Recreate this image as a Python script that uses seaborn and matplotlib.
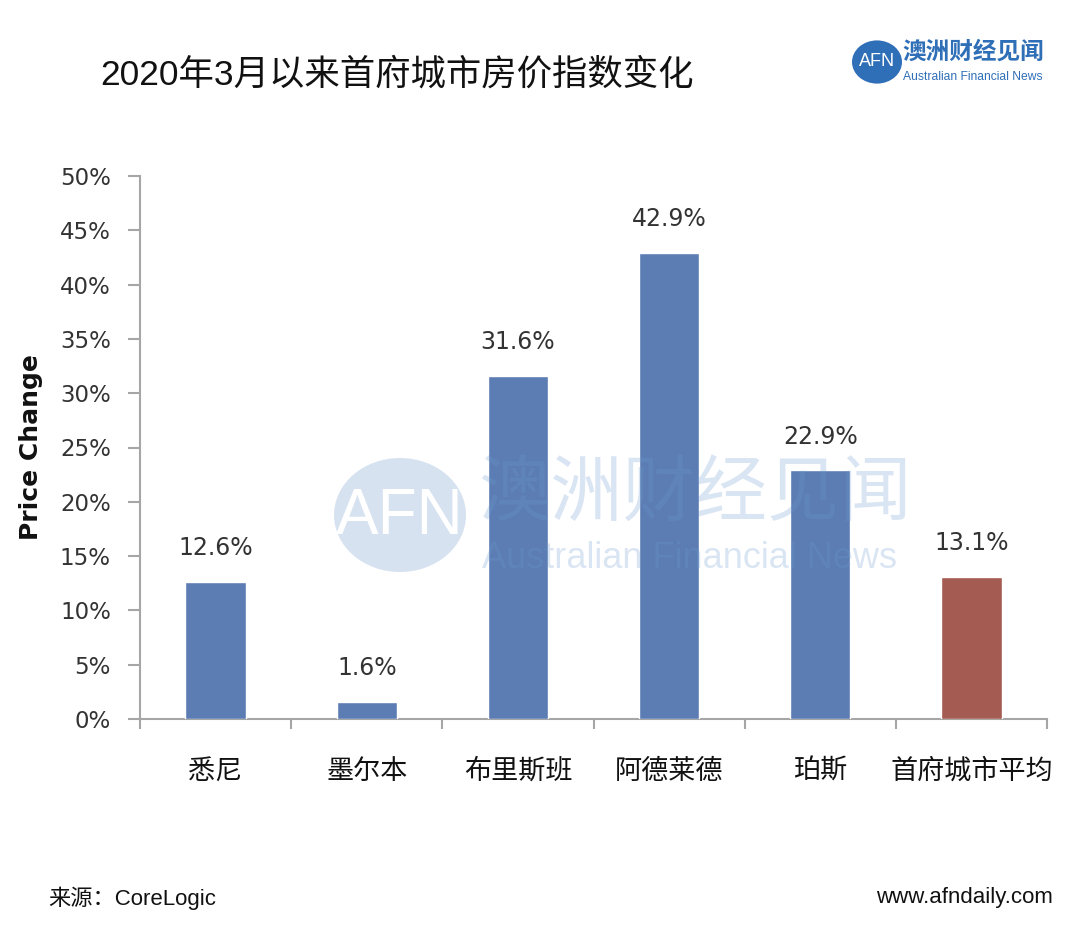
import matplotlib
matplotlib.use("Agg")
import matplotlib.pyplot as plt
import seaborn as sns
import pandas as pd
from matplotlib.patches import Circle
from matplotlib.ticker import FixedLocator, PercentFormatter

cities = ["悉尼", "墨尔本", "布里斯班", "阿德莱德", "珀斯", "首府城市平均"]
changes = [12.6, 1.6, 31.6, 42.9, 22.9, 13.1]
bar_colors = ["#5B7DB3", "#5B7DB3", "#5B7DB3", "#5B7DB3", "#5B7DB3", "#A35B52"]
y_ticks = [0, 5, 10, 15, 20, 25, 30, 35, 40, 45, 50]

sns.set_theme(style="white")
plt.rcParams['font.family'] = ['Noto Sans CJK SC', 'DejaVu Sans']
LAT = ['Liberation Sans', 'Noto Sans CJK SC']

df = pd.DataFrame({"city": cities, "change": changes})

fig = plt.figure(figsize=(10.8, 9.33), dpi=100)
ax = fig.add_axes([140/1080, 1-719/933, (1047-140)/1080, (719-176)/933])

sns.barplot(data=df, x="city", y="change", hue="city", palette=bar_colors,
            width=0.4, legend=False, ax=ax, saturation=1, zorder=3)

ax.set_ylim(0, 50)
ax.set_xlim(-0.5, len(cities)-0.5)
ax.yaxis.set_major_locator(FixedLocator(y_ticks))
ax.yaxis.set_major_formatter(PercentFormatter(decimals=0))
ax.tick_params(axis="y", which="major", direction="out", length=9, width=1.5,
               color="#A6A6A6", labelsize=16.5, labelcolor="#333333", left=True, pad=12)
for lab in ax.get_yticklabels():
    lab.set_family(['DejaVu Sans'])
ax.tick_params(axis="x", which="major", length=0, labelsize=19.5, labelcolor="#111111", pad=28)
ax.set_xticks([i - 0.5 for i in range(len(cities)+1)], minor=True)
ax.tick_params(axis="x", which="minor", direction="out", length=7, width=1.5,
               color="#A6A6A6", bottom=True)

for s in ["top", "right"]:
    ax.spines[s].set_visible(False)
for s in ["left", "bottom"]:
    ax.spines[s].set_color("#A6A6A6")
    ax.spines[s].set_linewidth(1.5)

ax.set_xlabel("")
ax.set_ylabel("Price Change", fontsize=18, fontweight="bold", color="#111111",
              family=["DejaVu Sans"], labelpad=12)

for i, v in enumerate(changes):
    ax.text(i, v + 2.0, f"{v:.1f}%", ha="center", va="bottom", fontsize=17,
            color="#333333", zorder=4, family=["DejaVu Sans"])

# watermark
fig.patches.append(Circle((400/1080, 1-515/933), 66/1080, transform=fig.transFigure,
                          facecolor="#D7E2F0", edgecolor="none", zorder=0))
fig.text(400/1080, 1-517/933, "AFN", ha="center", va="center", fontsize=46,
         color="white", zorder=5, family=LAT)
fig.text(478/1080, 1-494/933, "澳洲财经见闻", ha="left", va="center", fontsize=52,
         color="#6E9AD0", alpha=0.25, zorder=5)
fig.text(482/1080, 1-559/933, "Australian Financial News", ha="left", va="center",
         fontsize=26, color="#6E9AD0", alpha=0.25, zorder=5, family=LAT)

# title
fig.text(100/1080, 1-75/933, "2020年3月以来首府城市房价指数变化", ha="left", va="center",
         fontsize=25.5, color="#111111", family=LAT)

# logo
fig.patches.append(Circle((877/1080, 1-62/933), 25/1080, transform=fig.transFigure,
                          facecolor="#2F6FB7", edgecolor="none"))
fig.text(877/1080, 1-62/933, "AFN", ha="center", va="center", fontsize=13,
         color="white", family=LAT)
fig.text(902/1080, 1-52/933, "澳洲财经见闻", ha="left", va="center", fontsize=17,
         color="#2F6FB7", fontweight="bold")
fig.text(903/1080, 1-77/933, "Australian Financial News", ha="left", va="center",
         fontsize=8.7, color="#2F6FB7", family=LAT)

# footer
fig.text(48/1080, 1-898/933, "来源：CoreLogic", ha="left", va="center",
         fontsize=16, color="#111111", family=LAT)
fig.text(1053/1080, 1-898/933, "www.afndaily.com", ha="right", va="center",
         fontsize=16, color="#111111", family=LAT)

fig.savefig("out.png", dpi=100)
